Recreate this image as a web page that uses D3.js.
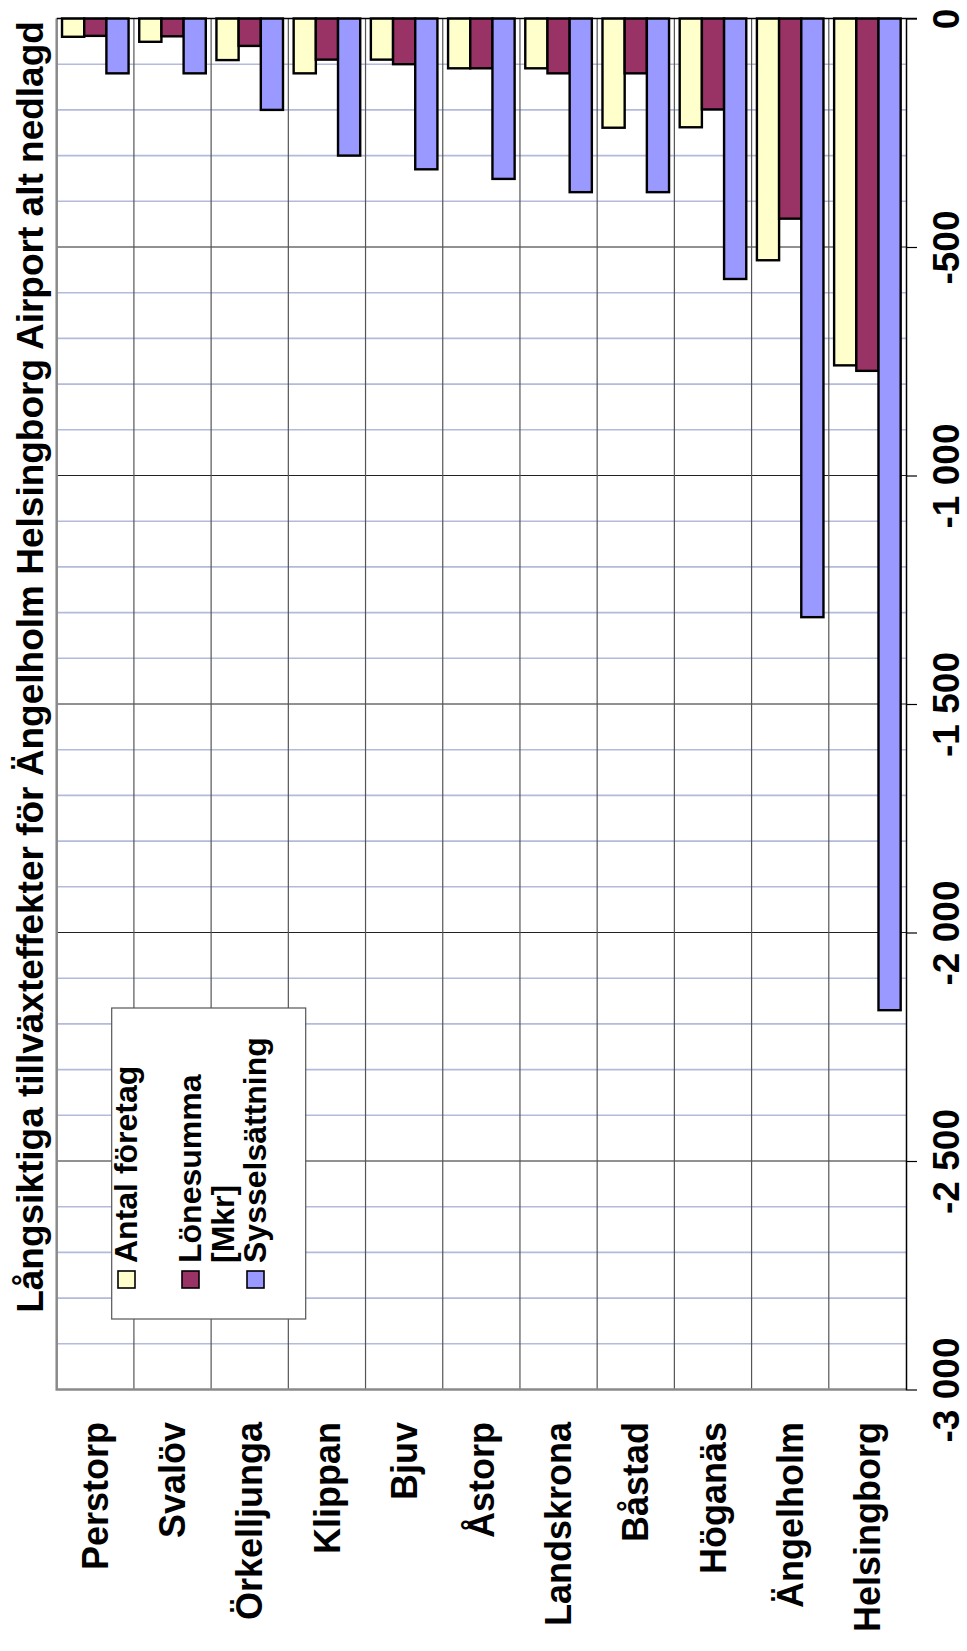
<!DOCTYPE html>
<html>
<head>
<meta charset="utf-8">
<script src="https://cdn.jsdelivr.net/npm/d3@7"></script>
<style>
  body { margin: 0; background: #fff; }
  svg { display: block; font-family: "Liberation Sans", Arial, sans-serif; font-weight: bold; }
</style>
</head>
<body>
<svg id="chart"></svg>
<script>
const kommuner = ['Perstorp', 'Svalöv', 'Örkelljunga', 'Klippan', 'Bjuv', 'Åstorp',
    'Landskrona', 'Båstad', 'Höganäs', 'Ängelholm', 'Helsingborg'];
const seriesNames = ['Antal företag', 'Lönesumma [Mkr]', 'Sysselsättning'];
const antalForetag = [-40, -51, -91, -120, -90, -109, -109, -239, -238, -529, -759];
const lonesumma = [-38, -39, -60, -90, -100, -109, -120, -120, -199, -438, -771];
const sysselsattning = [-120, -120, -200, -300, -330, -351, -380, -380, -570, -1310, -2170];
const majorTicks = [0, -500, -1000, -1500, -2000, -2500, -3000];
const title = 'Långsiktiga tillväxteffekter för Ängelholm Helsingborg Airport alt nedlagd';

const colors = ['#FFFFCC', '#993366', '#9999FF'];

const W = 967, H = 1651;
const plot = { left: 56.7, right: 906, top: 18.5, bottom: 1389.5 };

const svg = d3.select('#chart').attr('width', W).attr('height', H);

const rows = kommuner.map((k, i) => ({
    kommun: k,
    values: [antalForetag[i], lonesumma[i], sysselsattning[i]]
}));

const x = d3.scaleBand()
    .domain(kommuner)
    .range([plot.left, plot.right]);

const xs = d3.scaleBand()
    .domain(seriesNames)
    .range([0, x.bandwidth()])
    .paddingOuter(0.24);

const y = d3.scaleLinear()
    .domain([0, -3000])
    .range([plot.top, plot.bottom]);

// minor grid (every 100)
svg.append('g').selectAll('line')
    .data(y.ticks(30).filter(v => v % 500 !== 0))
    .join('line')
    .attr('x1', plot.left).attr('x2', plot.right)
    .attr('y1', d => y(d)).attr('y2', d => y(d))
    .attr('stroke', '#b3badc')
    .attr('stroke-width', 1.6);

// major grid
svg.append('g').selectAll('line')
    .data(majorTicks.filter(v => v !== 0 && v !== -3000))
    .join('line')
    .attr('x1', plot.left).attr('x2', plot.right)
    .attr('y1', d => y(d)).attr('y2', d => y(d))
    .attr('stroke', '#222')
    .attr('stroke-width', 1);

// category separators
svg.append('g').selectAll('line')
    .data(kommuner.slice(1))
    .join('line')
    .attr('x1', d => x(d)).attr('x2', d => x(d))
    .attr('y1', plot.top).attr('y2', plot.bottom)
    .attr('stroke', '#555')
    .attr('stroke-width', 1.2);

// left + bottom frame
svg.append('path')
    .attr('d', `M${plot.left},${plot.top}V${plot.bottom}H${plot.right}`)
    .attr('fill', 'none')
    .attr('stroke', '#8a8a8a')
    .attr('stroke-width', 2.5);

// legend box
const lg = svg.append('g');
lg.append('rect')
    .attr('x', 111.7).attr('y', 1008)
    .attr('width', 194).attr('height', 311)
    .attr('fill', '#fff')
    .attr('stroke', '#555')
    .attr('stroke-width', 1.2);

const legendX = [118, 182, 247];
lg.selectAll('rect.sw')
    .data(seriesNames)
    .join('rect')
    .attr('class', 'sw')
    .attr('x', (d, i) => legendX[i]).attr('y', 1271)
    .attr('width', 17).attr('height', 17)
    .attr('fill', (d, i) => colors[i])
    .attr('stroke', '#000')
    .attr('stroke-width', 1.6);

const legendLines = [['Antal företag'], ['Lönesumma', '[Mkr]'], ['Sysselsättning']];
const legendBase = [137, 201, 266];
legendLines.forEach((lines, i) => {
    lines.forEach((t, j) => {
        lg.append('text')
            .attr('transform', `translate(${legendBase[i] + j * 33},1263) rotate(-90)`)
            .attr('text-anchor', 'start')
            .style('font-size', '32px')
            .text(t);
    });
});

// bars
const groups = svg.append('g').selectAll('g')
    .data(rows)
    .join('g')
    .attr('transform', d => `translate(${x(d.kommun)},0)`);

groups.selectAll('rect')
    .data(d => d.values.map((v, i) => ({ name: seriesNames[i], value: v, i: i })))
    .join('rect')
    .attr('x', d => xs(d.name))
    .attr('y', y(0))
    .attr('width', xs.bandwidth())
    .attr('height', d => y(d.value) - y(0))
    .attr('fill', d => colors[d.i])
    .attr('stroke', '#000')
    .attr('stroke-width', 2.4);

// value axis on the right
const yaxis = d3.axisRight(y)
    .tickValues(majorTicks)
    .tickSize(11)
    .tickSizeOuter(0)
    .tickFormat(d => d3.format(',')(d).replace(/,/g, ' ').replace('−', '-'));

const ag = svg.append('g')
    .attr('transform', `translate(${plot.right},0)`)
    .call(yaxis);
ag.select('.domain').attr('stroke', '#000').attr('stroke-width', 1.5);
ag.selectAll('.tick line').attr('stroke', '#000').attr('stroke-width', 1.2);
ag.selectAll('.tick text')
    .attr('x', null).attr('dy', null)
    .attr('transform', 'translate(40,0) rotate(-90)')
    .attr('text-anchor', 'middle')
    .attr('dy', '0.35em')
    .attr('fill', '#000')
    .style('font-size', '37px')
    .style('font-family', '"Liberation Sans", Arial, sans-serif')
    .style('font-weight', 'bold');

// zero line across the plot
svg.append('line')
    .attr('x1', plot.left).attr('x2', plot.right + 11)
    .attr('y1', y(0)).attr('y2', y(0))
    .attr('stroke', '#000')
    .attr('stroke-width', 1.5);

// category labels
svg.append('g').selectAll('text')
    .data(kommuner)
    .join('text')
    .attr('transform', d => `translate(${x(d) + x.bandwidth() / 2},1422) rotate(-90)`)
    .attr('text-anchor', 'end')
    .attr('dy', '0.35em')
    .style('font-size', '36px')
    .text(d => d);

// title
svg.append('text')
    .attr('transform', 'translate(43,667) rotate(-90)')
    .attr('text-anchor', 'middle')
    .style('font-size', '37px')
    .text(title);
</script>
</body>
</html>
